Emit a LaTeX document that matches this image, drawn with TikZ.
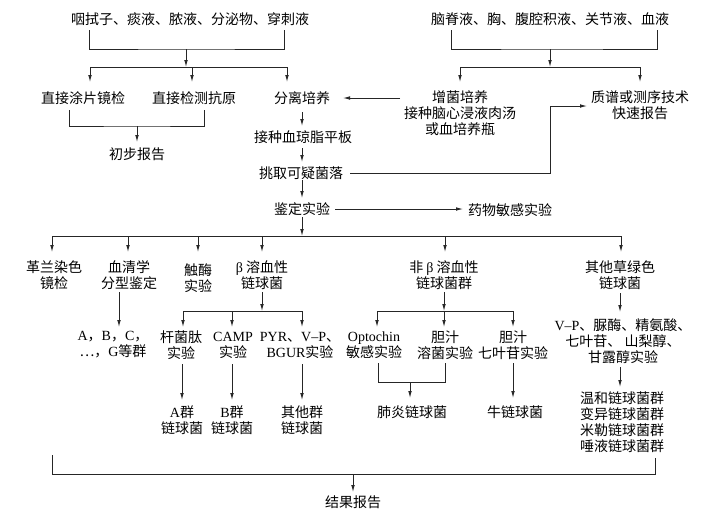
\documentclass[tikz,border=0pt]{standalone}
\usepackage{fontspec}
\setmainfont{Liberation Serif}
\newfontfamily\cjk{Noto Sans CJK SC}
\newcommand\en[1]{{\rmfamily #1}}
\usetikzlibrary{arrows.meta}
\begin{document}
\begin{tikzpicture}[x=1pt,y=-1pt,
  txt/.style={font=\cjk\fontsize{14}{16}\selectfont, align=center, inner sep=0pt, text=black},
  ln/.style={line width=0.85pt, draw=black!85},
  arr/.style={ln, -{Latex[length=7pt,width=3.6pt]}}]
\useasboundingbox[fill=white] (0,0) rectangle (706,523);

% ---------- nodes ----------
\node[txt] (s1) at (190,19) {咽拭子、痰液、脓液、分泌物、穿刺液};
\node[txt] (s2) at (550,19) {脑脊液、胸、腹腔积液、关节液、血液};
\node[txt] (smear) at (83,98) {直接涂片镜检};
\node[txt] (antigen) at (194,98) {直接检测抗原};
\node[txt] (iso) at (302,98) {分离培养};
\node[txt] (enr) at (460,113) {增菌培养\\接种脑心浸液肉汤\\或血培养瓶};
\node[txt] (ms) at (640,105.5) {质谱或测序技术\\快速报告};
\node[txt] (prelim) at (137,154) {初步报告};
\node[txt] (plate) at (303,137) {接种血琼脂平板};
\node[txt] (pick) at (301,173) {挑取可疑菌落};
\node[txt] (ident) at (302,209) {鉴定实验};
\node[txt] (ast) at (510,210) {药物敏感实验};

\node[txt] (gram) at (54,275) {革兰染色\\镜检};
\node[txt] (sero) at (129,275) {血清学\\分型鉴定};
\node[txt] (cat) at (198,278) {触酶\\实验};
\node[txt] (beta) at (262,275) {\en{β} 溶血性\\链球菌};
\node[txt] (nbeta) at (444,275) {非 \en{β} 溶血性\\链球菌群};
\node[txt] (visc) at (620,275) {其他草绿色\\链球菌};

\node[txt] (grp) at (113,345) {\en{A}，\en{B}，\en{C}，\\…，\en{G}等群};
\node[txt] (bac) at (181,345) {杆菌肽\\实验};
\node[txt] (camp) at (233,345) {\en{CAMP}\\实验};
\node[txt] (pyr) at (300,345) {\en{PYR}、\en{V–P}、\\\en{BGUR}实验};
\node[txt] (opt) at (374,345) {\en{Optochin}\\敏感实验};
\node[txt] (bile) at (445,345) {胆汁\\溶菌实验};
\node[txt] (esc) at (513,345) {胆汁\\七叶苷实验};
\node[txt] (vp) at (623,341) {\en{V–P}、脲酶、精氨酸、\\七叶苷、 山梨醇、\\甘露醇实验};

\node[txt] (ga) at (182,420) {\en{A}群\\链球菌};
\node[txt] (gb) at (232,420) {\en{B}群\\链球菌};
\node[txt] (go) at (302,420) {其他群\\链球菌};
\node[txt] (pneu) at (412,412) {肺炎链球菌};
\node[txt] (bovis) at (515,412) {牛链球菌};
\node[txt] (groups) at (622,422) {温和链球菌群\\变异链球菌群\\米勒链球菌群\\唾液链球菌群};
\node[txt] (result) at (353,502) {结果报告};

% ---------- junction coordinates ----------
\coordinate (s1l) at (89,30);   \coordinate (s1r) at (284,30);
\coordinate (s1j) at (186,49);  \coordinate (s1h) at (186,67);
\coordinate (h1l) at (90,67);   \coordinate (h1m) at (192,67); \coordinate (h1r) at (287,67);
\coordinate (t1l) at (90,82);   \coordinate (t1m) at (192,82); \coordinate (t1r) at (287,82);

\coordinate (s2l) at (451,30);  \coordinate (s2r) at (657,30);
\coordinate (s2j) at (550,49);  \coordinate (s2h) at (550,67);
\coordinate (h2l) at (460,67);  \coordinate (h2r) at (640,67);
\coordinate (t2l) at (460,82);  \coordinate (t2r) at (640,82);

\coordinate (enrout) at (400,98); \coordinate (isoin) at (343,98);

\coordinate (pl) at (69,110);   \coordinate (pr) at (204,110);
\coordinate (pj) at (137,126);  \coordinate (pt) at (137,142);

\coordinate (iso1) at (302,112); \coordinate (iso2) at (302,126);
\coordinate (pla1) at (302,148); \coordinate (pla2) at (302,162);
\coordinate (pk1) at (302,180);  \coordinate (pk2) at (302,198);
\coordinate (pkr) at (350,173);  \coordinate (msb) at (550,106); \coordinate (msin) at (587,106);

\coordinate (id1) at (335,209);  \coordinate (id2) at (463,209);
\coordinate (id3) at (302,217);  \coordinate (id4) at (302,236);
\coordinate (h3a) at (52,236);   \coordinate (h3b) at (128,236); \coordinate (h3c) at (198,236);
\coordinate (h3d) at (262,236);  \coordinate (h3e) at (445,236); \coordinate (h3f) at (621,236);

\coordinate (se1) at (119,292);  \coordinate (se2) at (119,327);
\coordinate (be1) at (262,292);  \coordinate (be2) at (262,311);
\coordinate (h4a) at (183,311);  \coordinate (h4b) at (232,311); \coordinate (h4c) at (302,311);
\coordinate (nb1) at (444,292);  \coordinate (nb2) at (444,311);
\coordinate (h5a) at (377,311);  \coordinate (h5b) at (444,311); \coordinate (h5c) at (513,311);
\coordinate (vi1) at (620,293);  \coordinate (vi2) at (620,312);

\coordinate (r5a) at (182,364);  \coordinate (r5b) at (232,364); \coordinate (r5c) at (302,364);
\coordinate (ol) at (378,363);   \coordinate (or) at (445,363);
\coordinate (oj) at (410,382);   \coordinate (ot) at (410,398);
\coordinate (es1) at (513,363);  \coordinate (es2) at (513,398);
\coordinate (vp1) at (620,367);  \coordinate (vp2) at (620,387);

\coordinate (bl) at (52,455);    \coordinate (br) at (655,458);
\coordinate (bj) at (353,474);   \coordinate (bt) at (353,492);

% ---------- connectors ----------
\draw[ln] (s1l) |- (s1j) -| (s1r);
\draw[arr] (s1j) -- (s1h);
\draw[ln] (h1l) -- (h1r);
\draw[arr] (h1l) -- (t1l);
\draw[arr] (h1m) -- (t1m);
\draw[arr] (h1r) -- (t1r);

\draw[ln] (s2l) |- (s2j) -| (s2r);
\draw[arr] (s2j) -- (s2h);
\draw[ln] (h2l) -- (h2r);
\draw[arr] (h2l) -- (t2l);
\draw[arr] (h2r) -- (t2r);

\draw[arr] (enrout) -- (isoin);

\draw[ln] (pl) |- (pj) -| (pr);
\draw[arr] (pj) -- (pt);

\draw[arr] (iso1) -- (iso2);
\draw[arr] (pla1) -- (pla2);
\draw[arr] (pk1) -- (pk2);
\draw[arr] (pkr) -| (msb) -- (msin);

\draw[arr] (id1) -- (id2);
\draw[arr] (id3) -- (id4);
\draw[ln] (h3a) -- (h3f);
\foreach \c in {h3a,h3b,h3c,h3d,h3e,h3f}
  \draw[arr] (\c) -- ++(0,16);

\draw[arr] (se1) -- (se2);
\draw[arr] (be1) -- (be2);
\draw[ln] (h4a) -- (h4c);
\foreach \c in {h4a,h4b,h4c}
  \draw[arr] (\c) -- ++(0,16);
\draw[arr] (nb1) -- (nb2);
\draw[ln] (h5a) -- (h5c);
\foreach \c in {h5a,h5b,h5c}
  \draw[arr] (\c) -- ++(0,16);
\draw[arr] (vi1) -- (vi2);

\foreach \c in {r5a,r5b,r5c}
  \draw[arr] (\c) -- ++(0,36);
\draw[ln] (ol) |- (oj) -| (or);
\draw[arr] (oj) -- (ot);
\draw[arr] (es1) -- (es2);
\draw[arr] (vp1) -- (vp2);

\draw[ln] (bl) |- (bj) -| (br);
\draw[arr] (bj) -- (bt);
\end{tikzpicture}
\end{document}
